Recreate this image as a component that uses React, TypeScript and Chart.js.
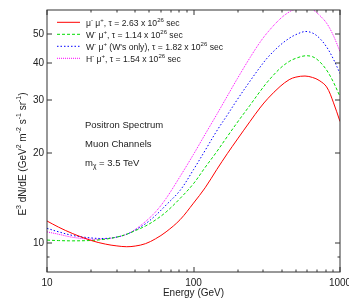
import React, { useEffect, useRef } from "react";
import { Chart, registerables } from "chart.js";

Chart.register(...registerables);

// ---- data ----
const energy = [10, 12, 15, 20, 25, 30, 35, 40, 47, 55, 65, 81, 100, 120, 144, 170, 200, 243, 284, 323, 390, 450, 500, 577, 650, 720, 810, 900, 1000];
const muMu = [11.85, 11.3, 10.75, 10.2, 9.92, 9.78, 9.72, 9.77, 9.95, 10.33, 10.9, 11.97, 13.6, 15.3, 17.6, 19.9, 22.3, 25.5, 28.3, 30.5, 33.4, 35.2, 35.9, 36.2, 35.8, 35.0, 33.3, 29.6, 25.5];
const wMu = [10.23, 10.19, 10.17, 10.2, 10.3, 10.47, 10.7, 11.0, 11.4, 11.94, 12.7, 14.1, 15.8, 17.9, 20.2, 22.7, 25.4, 28.9, 32.1, 34.8, 38.4, 40.5, 41.5, 42.3, 42.0, 40.6, 37.9, 34.6, 30.9];
const wMuWonly = [11.2, 10.9, 10.6, 10.4, 10.36, 10.47, 10.7, 11.05, 11.6, 12.36, 13.4, 15.0, 17.6, 20.4, 23.7, 26.8, 30.3, 34.8, 38.7, 41.9, 45.9, 48.4, 49.8, 51.0, 50.4, 48.6, 45.3, 41.3, 36.9];
const hMu = [10.9, 10.7, 10.45, 10.3, 10.33, 10.47, 10.7, 11.1, 11.8, 12.7, 14.1, 16.7, 19.8, 23.1, 26.9, 31.0, 35.6, 41.7, 46.9, 50.9, 56.2, 59.3, 60.7, 61.8, 60.4, 58.0, 54.4, 49.5, 43.7];

const seriesLabels = [
  "μ⁻ μ⁺, τ = 2.63 x 10²⁶ sec",
  "W⁻ μ⁺, τ = 1.14 x 10²⁶ sec",
  "W⁻ μ⁺ (W's only), τ = 1.82 x 10²⁶ sec",
  "H⁻ μ⁺, τ = 1.54 x 10²⁶ sec",
];
const seriesColors = ["#ff0000", "#00dd00", "#0000ff", "#ff00ff"];

const xTickValues = [10, 100, 1000];
const xMinorValues = [20, 30, 40, 50, 60, 70, 80, 90, 200, 300, 400, 500, 600, 700, 800, 900];
const yTickValues = [10, 20, 30, 40, 50];
const yMinorValues = [9];

const xTitle = "Energy (GeV)";
const yTitle = "E³ dN/dE (GeV² m⁻² s⁻¹ sr⁻¹)";
const annotations = ["Positron Spectrum", "Muon Channels", "mᵪ = 3.5 TeV"];

const FONT = "'Liberation Sans', Arial, Helvetica, sans-serif";

// ---- rich text (unicode super/subscripts drawn as small raised/lowered text) ----
const SUP: Record<string, string> = { "⁰": "0", "¹": "1", "²": "2", "³": "3", "⁴": "4", "⁵": "5", "⁶": "6", "⁷": "7", "⁸": "8", "⁹": "9", "⁻": "-", "⁺": "+" };
const SUB: Record<string, string> = { "ᵪ": "χ" };

function segments(text: string) {
  const segs: { t: string; k: number }[] = [];
  for (const ch of Array.from(text)) {
    let k = 0, c = ch;
    if (SUP[ch] !== undefined) { k = 1; c = SUP[ch]; }
    else if (SUB[ch] !== undefined) { k = -1; c = SUB[ch]; }
    const last = segs[segs.length - 1];
    if (last && last.k === k) last.t += c; else segs.push({ t: c, k });
  }
  return segs;
}

function drawRich(ctx: CanvasRenderingContext2D, text: string, x: number, y: number, size: number, color: string, measureOnly = false) {
  const segs = segments(text);
  let cx = x;
  ctx.save();
  ctx.fillStyle = color;
  ctx.textBaseline = "alphabetic";
  ctx.textAlign = "left";
  for (const s of segs) {
    const fs = s.k === 0 ? size : size * 0.7;
    const dy = s.k === 1 ? -size * 0.42 : s.k === -1 ? size * 0.25 : 0;
    ctx.font = `${fs}px ${FONT}`;
    if (!measureOnly) ctx.fillText(s.t, cx, y + dy);
    cx += ctx.measureText(s.t).width;
  }
  ctx.restore();
  return cx - x;
}

const decorPlugin = {
  id: "decor",
  afterDraw(chart: any) {
    const ctx: CanvasRenderingContext2D = chart.ctx;
    const { left, right, top, bottom } = chart.chartArea;
    const xs = chart.scales.x, ys = chart.scales.y;

    // frame
    ctx.save();
    ctx.strokeStyle = "#333";
    ctx.lineWidth = 1;
    ctx.strokeRect(left, top, right - left, bottom - top);

    const line = (x1: number, y1: number, x2: number, y2: number) => {
      ctx.beginPath(); ctx.moveTo(x1, y1); ctx.lineTo(x2, y2); ctx.stroke();
    };
    // x ticks (inward, mirrored)
    xTickValues.forEach((v) => { const p = Math.round(xs.getPixelForValue(v)); line(p, bottom, p, bottom - 5); line(p, top, p, top + 5); });
    xMinorValues.forEach((v) => { const p = Math.round(xs.getPixelForValue(v)); line(p, bottom, p, bottom - 2.5); line(p, top, p, top + 2.5); });
    // y ticks
    yTickValues.forEach((v) => { const p = Math.round(ys.getPixelForValue(v)); line(left, p, left + 5, p); line(right, p, right - 5, p); });
    yMinorValues.forEach((v) => { const p = Math.round(ys.getPixelForValue(v)); line(left, p, left + 2.5, p); line(right, p, right - 2.5, p); });
    ctx.restore();

    // legend inside the plot
    chart.data.datasets.forEach((ds: any, i: number) => {
      const y = top + 12.3 + i * 12;
      ctx.save();
      ctx.strokeStyle = ds.borderColor;
      ctx.lineWidth = ds.borderWidth;
      ctx.setLineDash(ds.borderDash || []);
      ctx.beginPath(); ctx.moveTo(left + 10, y); ctx.lineTo(left + 33, y); ctx.stroke();
      ctx.restore();
      drawRich(ctx, ds.label, left + 39, y + 3.2, 8.6, "#222");
    });

    // annotations
    annotations.forEach((t, i) => drawRich(ctx, t, left + 38, 127.5 + i * 19, 9.5, "#222"));

    // y-axis title (rotated)
    ctx.save();
    ctx.translate(22, 154);
    ctx.rotate(-Math.PI / 2);
    const w = drawRich(ctx, yTitle, 0, 0, 10, "#222", true);
    drawRich(ctx, yTitle, -w / 2, 3.5, 10, "#222");
    ctx.restore();
  },
};

export default function App() {
  const ref = useRef<HTMLCanvasElement>(null);
  useEffect(() => {
    document.body.style.margin = "0";
    const dashes = [[], [3, 2], [1.5, 2], [1, 1]];
    const values = [muMu, wMu, wMuWonly, hMu];
    const chart = new Chart(ref.current!, {
      type: "line",
      data: {
        datasets: values.map((vals, i) => ({
          label: seriesLabels[i],
          data: energy.map((e, j) => ({ x: e, y: vals[j] })),
          borderColor: seriesColors[i],
          borderWidth: 1,
          borderDash: dashes[i],
          pointRadius: 0,
          fill: false,
          tension: 0.35,
        })),
      },
      options: {
        animation: false,
        responsive: false,
        layout: { padding: { top: 10, right: 9, left: 0, bottom: 0 } },
        plugins: { legend: { display: false }, tooltip: { enabled: false } },
        scales: {
          x: {
            type: "logarithmic",
            min: 10,
            max: 1000,
            grid: { display: false, drawTicks: false },
            border: { display: false },
            ticks: { autoSkip: false, maxRotation: 0, padding: 5, color: "#222", font: { size: 10, family: FONT }, callback: (v: any) => String(v) },
            title: { display: true, text: xTitle, color: "#222", font: { size: 10, family: FONT }, padding: 0 },
            afterBuildTicks: (s: any) => { s.ticks = xTickValues.map((v) => ({ value: v })); },
            afterFit: (s: any) => { s.height = 27; s.paddingLeft = 0; s.paddingRight = 0; },
          },
          y: {
            type: "logarithmic",
            min: 8,
            max: 60.2,
            grid: { display: false, drawTicks: false },
            border: { display: false },
            ticks: { autoSkip: false, padding: 3, color: "#222", font: { size: 10, family: FONT }, callback: (v: any) => String(v) },
            afterBuildTicks: (s: any) => { s.ticks = yTickValues.map((v) => ({ value: v })); },
            afterFit: (s: any) => { s.width = 47; s.paddingTop = 0; s.paddingBottom = 0; },
          },
        },
      },
      plugins: [decorPlugin],
    } as any);
    return () => chart.destroy();
  }, []);
  return (
    <div style={{ width: 349, height: 299 }}>
      <canvas ref={ref} width={349} height={299} style={{ display: "block" }} />
    </div>
  );
}
